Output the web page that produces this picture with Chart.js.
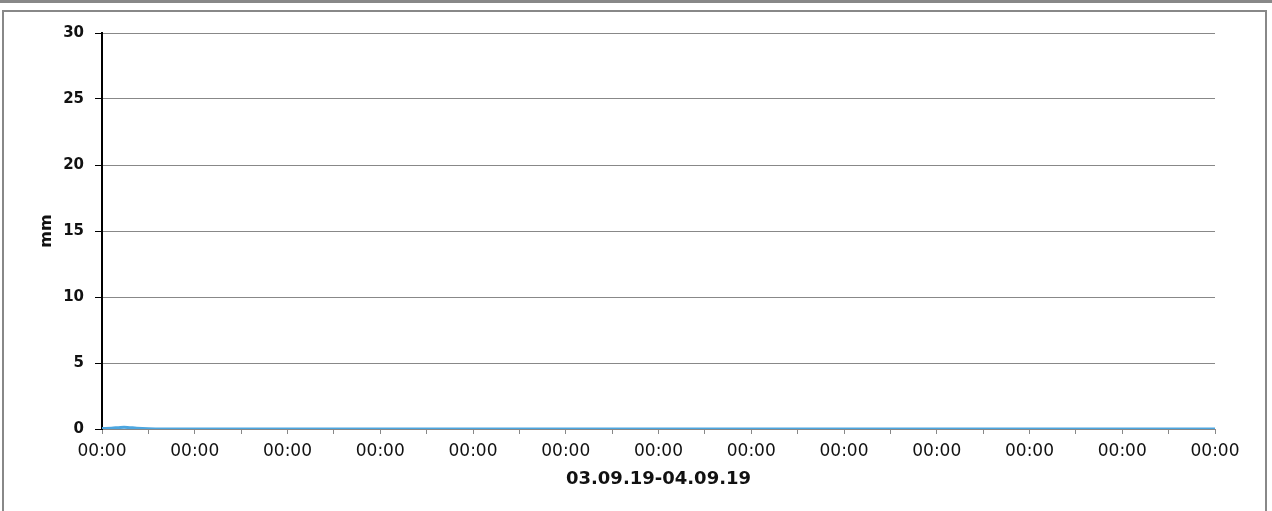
<!DOCTYPE html>
<html>
<head>
<meta charset="utf-8">
<script src="https://cdn.jsdelivr.net/npm/chart.js@4/dist/chart.umd.min.js"></script>
<style>
  html, body { margin: 0; padding: 0; background: #fff; overflow: hidden; }
  #wrap { position: relative; width: 1272px; height: 511px; }
  #topbar { position: absolute; left: 0; top: 0; width: 1272px; height: 3px; background: #888; }
  #frame { position: absolute; left: 2px; top: 10px; width: 1261px; height: 510px;
           border: 2px solid #888; border-bottom: none; }
  canvas { position: absolute; left: 0; top: 0; }
</style>
</head>
<body>
<div id="wrap">
  <canvas id="myChart" width="1272" height="511"></canvas>
  <div id="topbar"></div>
  <div id="frame"></div>
</div>
<script>
// hours since 00:00 on 03.09.19
const hours = [0, 0.2, 0.4, 0.55, 0.75, 1, 1.3, 2, 4, 6, 8, 10, 12, 14, 16, 18, 20, 22, 24];
const rainMm = [0.04, 0.06, 0.12, 0.12, 0.06, 0.02, 0, 0, 0, 0, 0, 0, 0, 0, 0, 0, 0, 0, 0];
const xTickHours = [0, 1, 2, 3, 4, 5, 6, 7, 8, 9, 10, 11, 12, 13, 14, 15, 16, 17, 18, 19, 20, 21, 22, 23, 24];
const yTicks = [0, 5, 10, 15, 20, 25, 30];
const xLabel = '00:00';
const xTitle = '03.09.19-04.09.19';
const yTitle = 'mm';

const points = hours.map((h, i) => ({ x: h, y: rainMm[i] }));

const fontFamily = '"DejaVu Sans", sans-serif';

new Chart(document.getElementById('myChart'), {
    type: 'line',
    data: {
        datasets: [{
            data: points,
            borderColor: '#4ca6e0',
            borderWidth: 3,
            pointRadius: 0,
            tension: 0.4,
            fill: false
        }]
    },
    options: {
        responsive: false,
        animation: false,
        layout: { padding: { left: 0, right: 57, top: 33, bottom: 0 } },
        plugins: { legend: { display: false }, tooltip: { enabled: false } },
        scales: {
            x: {
                type: 'linear',
                min: 0,
                max: 24,
                afterFit: s => { s.height = 82; },
                afterBuildTicks: s => { s.ticks = xTickHours.map(v => ({ value: v })); },
                ticks: {
                    autoSkip: false,
                    maxRotation: 0,
                    padding: 7,
                    color: '#111',
                    font: { family: fontFamily, size: 17 },
                    callback: v => (v % 2 === 0 ? xLabel : '')
                },
                grid: {
                    drawOnChartArea: false,
                    drawTicks: true,
                    tickLength: 5,
                    color: '#888',
                    tickColor: '#888'
                },
                border: { color: '#888', width: 1 },
                title: {
                    display: true,
                    text: xTitle,
                    color: '#111',
                    font: { family: fontFamily, size: 18, weight: 'bold' },
                    padding: { top: 0, bottom: 21 }
                }
            },
            y: {
                min: 0,
                max: 30,
                afterFit: s => { s.width = 102; },
                afterBuildTicks: s => { s.ticks = yTicks.map(v => ({ value: v })); },
                ticks: {
                    padding: 11,
                    color: '#111',
                    font: { family: fontFamily, size: 15, weight: 'bold' }
                },
                grid: {
                    color: '#888',
                    lineWidth: 1,
                    tickLength: 7,
                    tickColor: '#000'
                },
                border: { color: '#000', width: 2 },
                title: {
                    display: true,
                    text: yTitle,
                    color: '#111',
                    font: { family: fontFamily, size: 16, weight: 'bold' },
                    padding: { top: 37, bottom: 0 }
                }
            }
        }
    }
});
</script>
</body>
</html>
